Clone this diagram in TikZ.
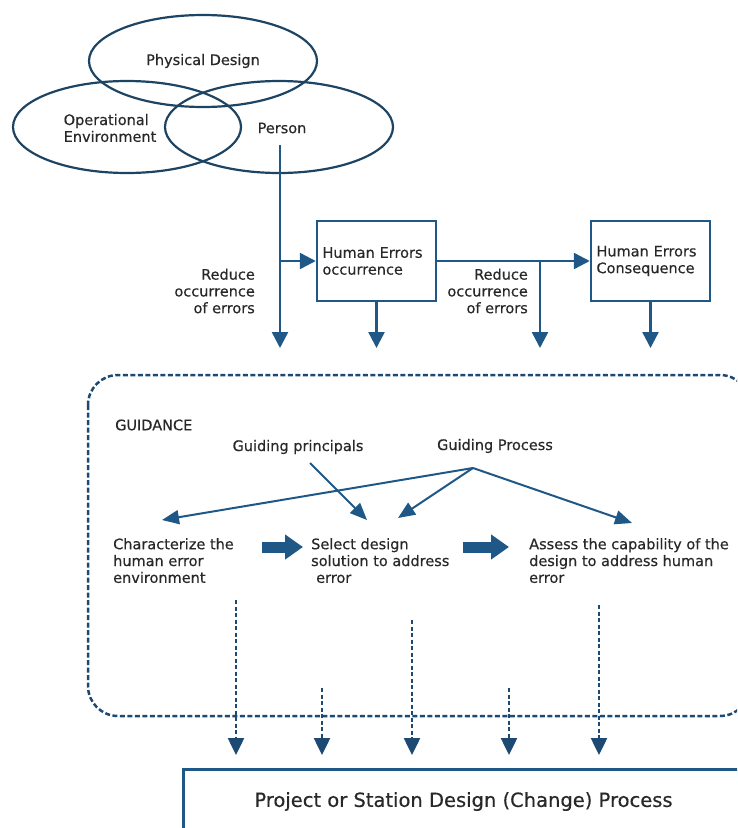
\documentclass[tikz,border=0pt]{standalone}
\usepackage{fontspec}
\setmainfont[FakeBold=0.4]{DejaVu Sans}
\usetikzlibrary{positioning, arrows.meta, shapes.geometric}
\definecolor{lineblue}{RGB}{31, 88, 135}
\definecolor{ringblue}{RGB}{30, 68, 100}
\definecolor{dashblue}{RGB}{28, 74, 115}
\definecolor{textgray}{RGB}{40, 40, 40}

\begin{document}
\begin{tikzpicture}[x=1pt, y=-1pt,
    txt/.style={text=textgray, font=\fontsize{14.5}{16.8}\selectfont, inner sep=0pt},
    ring/.style={ellipse, draw=ringblue, line width=2.2pt, minimum width=228pt, minimum height=92pt, inner sep=0pt},
    errbox/.style={draw=lineblue, line width=2.5pt, minimum width=119pt, minimum height=80pt,
      text width=108pt, align=left, inner xsep=5pt, text=textgray, font=\fontsize{14.5}{16.8}\selectfont},
    flow/.style={draw=lineblue, line width=2.5pt, -{Triangle[width=16pt, length=16pt]}},
    thinflow/.style={draw=lineblue, line width=2pt, -{Triangle[width=14pt, length=17pt]}},
    bigarrow/.style={draw=lineblue, line width=11pt, -{Triangle[width=24pt, length=18pt]}},
    dashflow/.style={draw=dashblue, line width=2.5pt, dash pattern=on 4pt off 2.5pt,
      shorten >=13pt, -{Triangle[width=16pt, length=17pt]}},
    guidebox/.style={draw=dashblue, line width=2.5pt, dash pattern=on 5pt off 2.5pt, rounded corners=30pt}]
  \useasboundingbox (0,0) rectangle (737,828);
  \clip (0,0) rectangle (737,828);

  % three overlapping factors
  \node[ring, txt] (physical) at (203,61) {Physical Design};
  \node[ring] (operational) at (127,127) {};
  \node[ring] (person) at (279,127) {};
  \node[txt, align=left] (optext) at (110,128) {Operational\\Environment};
  \node[txt] (ptext) at (282,128) {Person};

  % error chain
  \node[errbox] (occur) at (376.5,261) {Human Errors\\occurrence};
  \node[errbox] (conseq) at (650.5,261) {Human Errors\\Consequence};
  \coordinate (drop0) at (280,348);
  \coordinate (split0) at (280,261);
  \coordinate (split1) at (540,261);
  \draw[flow] (280,145) -- (drop0);
  \draw[flow] (split0) -- (occur.west);
  \draw[flow] (occur.east) -- (conseq.west);
  \draw[flow] (occur.south) -- (occur.south |- drop0);
  \draw[flow] (split1) -- (split1 |- drop0);
  \draw[flow] (conseq.south) -- (conseq.south |- drop0);
  \node[txt, align=right, anchor=east] (reduce1) at (255,291) {Reduce\\occurrence\\of errors};
  \node[txt, align=right, anchor=east] (reduce2) at (528,291) {Reduce\\occurrence\\of errors};

  % guidance frame
  \draw[guidebox] (88,375) rectangle (750,716);
  \node[txt, anchor=west] (guidance) at (115,425) {GUIDANCE};
  \node[txt] (principals) at (298,447) {Guiding principals};
  \node[txt] (process) at (495,446) {Guiding Process};
  \coordinate (apex) at (473,468);

  \node[txt, align=left, anchor=north west] (charz) at (113,538) {Characterize the\\human error\\environment};
  \node[txt, align=left, anchor=north west] (select) at (311,538) {Select design\\solution to address\\\hspace{5pt}error};
  \node[txt, align=left, anchor=north west] (assess) at (529,538) {Assess the capability of the\\design to address human\\error};

  \coordinate (charztip) at (162,520);
  \coordinate (selecttip1) at (367,520);
  \coordinate (selecttip2) at (398,518);
  \coordinate (assesstip) at (632,523);
  \draw[thinflow] (310,463) -- (selecttip1);
  \draw[thinflow] (apex) -- (charztip);
  \draw[thinflow] (apex) -- (selecttip2);
  \draw[thinflow] (apex) -- (assesstip);

  \coordinate (step1a) at (262,547);
  \coordinate (step1b) at (303,547);
  \coordinate (step2a) at (463,547);
  \coordinate (step2b) at (509,547);
  \draw[bigarrow] (step1a) -- (step1b);
  \draw[bigarrow] (step2a) -- (step2b);

  % into the design process
  \node[draw=lineblue, line width=3pt, anchor=north west, minimum width=560pt, minimum height=64pt,
    text=textgray, font=\fontsize{19.5}{23}\selectfont] (project) at (182,768) {Project or Station Design (Change) Process};
  \coordinate (feed1) at (236,600);
  \coordinate (feed2) at (322,688);
  \coordinate (feed3) at (412,620);
  \coordinate (feed4) at (509,688);
  \coordinate (feed5) at (599,605);
  \draw[dashflow] (feed1) -- (feed1 |- project.north);
  \draw[dashflow] (feed2) -- (feed2 |- project.north);
  \draw[dashflow] (feed3) -- (feed3 |- project.north);
  \draw[dashflow] (feed4) -- (feed4 |- project.north);
  \draw[dashflow] (feed5) -- (feed5 |- project.north);
\end{tikzpicture}
\end{document}
